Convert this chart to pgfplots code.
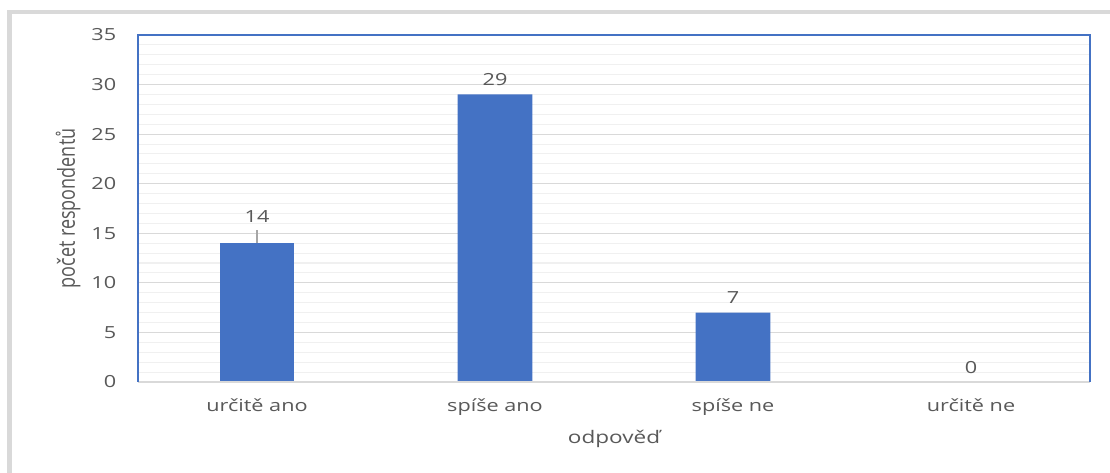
\documentclass[border=0pt]{standalone}
\usepackage{pgfplots}
\pgfplotsset{compat=1.18}
\usepackage{fontspec}
\setmainfont{Open Sans}
\definecolor{barblue}{RGB}{68,114,196}
\definecolor{txt}{RGB}{89,89,89}
\definecolor{majgrid}{RGB}{217,217,217}
\definecolor{mingrid}{RGB}{240,240,240}
\definecolor{leader}{RGB}{166,166,166}
\begin{document}
\begin{tikzpicture}
\path[use as bounding box] (0,0) rectangle (832.5pt,354.75pt);
\fill[white] (0,0) rectangle (832.5pt,354.75pt);
\draw[majgrid,line width=3.5pt] (7.1pt,-10pt) -- (7.1pt,345.75pt) -- (840pt,345.75pt);
\begin{axis}[
  at={(103.5pt,68.25pt)}, anchor=south west,
  scale only axis, width=714pt, height=260.25pt,
  xmin=-0.5, xmax=3.5, ymin=0, ymax=35,
  xtick={0,1,2,3}, xticklabels={určitě ano, spíše ano, spíše ne, určitě ne},
  ytick={0,5,...,35}, minor y tick num=4,
  ymajorgrids, yminorgrids,
  major grid style={majgrid, line width=0.8pt},
  minor grid style={mingrid, line width=0.8pt},
  major tick length=0pt, minor tick length=0pt,
  axis line style={draw=none},
  tick label style={font=\fontsize{12.5}{14}\selectfont, text=txt, xscale=1.3},
  /pgf/number format/assume math mode=true,
  yticklabel style={xshift=-9pt},
  xticklabel style={yshift=-9pt},
  xlabel={odpověď}, ylabel={počet respondentů},
  xlabel style={font=\fontsize{13}{15}\selectfont, text=txt, xscale=1.3,
    at={(axis description cs:0.5,-0.164)}, anchor=center},
  ylabel style={font=\fontsize{13.5}{15}\selectfont, text=txt, yscale=1.3,
    at={(axis description cs:-0.0735,0.5)}, anchor=center},
  ybar, bar width=56pt, bar shift=0pt,
  every node near coord/.append style={font=\fontsize{12.5}{14}\selectfont, text=txt, xscale=1.3},
  after end axis/.code={
    \draw[majgrid, line width=1pt] (rel axis cs:0,0) -- (rel axis cs:1,0);
    \draw[barblue, line width=1.5pt] (rel axis cs:0,0) -- (rel axis cs:0,1) -- (rel axis cs:1,1) -- (rel axis cs:1,0);
  },
]
\addplot[fill=barblue, draw=none,
  error bars/.cd, y dir=plus, y explicit, error mark=none,
  error bar style={leader, line width=1.2pt}]
  coordinates {(0,14) +- (0,1.3)};
\addplot[draw=none, fill=none, nodes near coords,
  every node near coord/.append style={yshift=12pt}]
  coordinates {(0,14)};
\addplot[fill=barblue, draw=none, nodes near coords,
  every node near coord/.append style={yshift=3pt}]
  coordinates {(1,29) (2,7) (3,0)};
\end{axis}
\end{tikzpicture}
\end{document}
